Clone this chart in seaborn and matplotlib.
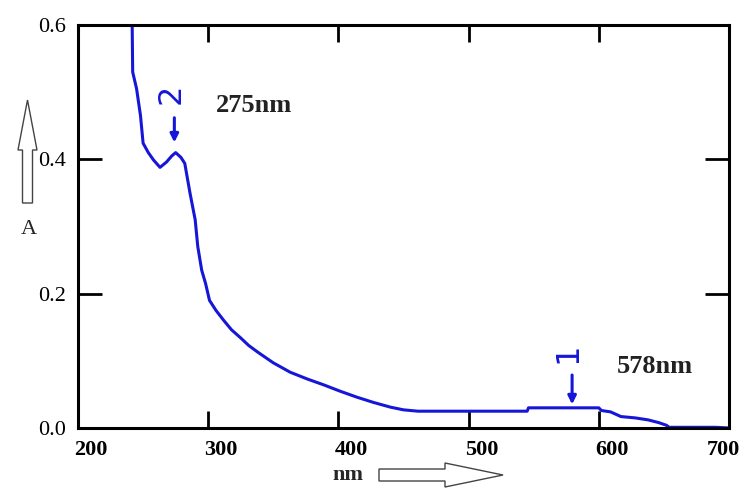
import matplotlib
matplotlib.use("Agg")
import matplotlib.pyplot as plt
import seaborn as sns
import pandas as pd
from matplotlib.patches import FancyArrow
from matplotlib.transforms import ScaledTranslation

# -----------------------------
# Data
# -----------------------------
wavelength = [241.5, 242, 245, 248, 250, 254, 258, 263, 268, 272, 275, 279, 282,
              286, 290, 292, 295, 298, 301, 306, 312, 318, 325, 331, 338, 350,
              363, 376, 389, 401, 414, 427, 440, 450, 461, 517, 545, 546, 600,
              602, 609, 617, 628, 638, 646, 652, 654, 690, 700]
absorbance = [0.62, 0.53, 0.505, 0.465, 0.424, 0.41, 0.399, 0.388, 0.396, 0.405,
              0.410, 0.403, 0.394, 0.35, 0.31, 0.27, 0.235, 0.215, 0.19, 0.175,
              0.16, 0.146, 0.134, 0.123, 0.113, 0.097, 0.083, 0.073, 0.064,
              0.055, 0.046, 0.038, 0.031, 0.027, 0.025, 0.025, 0.025, 0.03,
              0.03, 0.026, 0.024, 0.017, 0.015, 0.012, 0.008, 0.004, 0.001,
              0.001, 0.0]

x_ticks = [200, 300, 400, 500, 600, 700]
y_ticks = [0.0, 0.2, 0.4, 0.6]
y_tick_labels = ["0.0", "0.2", "0.4", "0.6"]

peaks = ["1", "2"]
peak_wl = [578, 274]
peak_label = ["578nm", "275nm"]

df = pd.DataFrame({"nm": wavelength, "A": absorbance})

# -----------------------------
# Style
# -----------------------------
sns.set_style("ticks")
plt.rcParams["font.family"] = ["Liberation Serif", "DejaVu Serif"]

BLUE = "#1616d8"

fig = plt.figure(figsize=(7.45, 4.95), dpi=100)
ax = fig.add_axes([0.1047, 0.1354, 0.8738, 0.8141])

sns.lineplot(data=df, x="nm", y="A", ax=ax, color=BLUE, linewidth=2.2,
             sort=False)

ax.set_xlim(200, 700)
ax.set_ylim(0, 0.6)
ax.set_xlabel("")
ax.set_ylabel("")

for s in ax.spines.values():
    s.set_visible(True)
    s.set_linewidth(2.2)
    s.set_color("black")

ax.set_xticks(x_ticks)
ax.set_xticklabels([str(v) for v in x_ticks], fontweight="bold", fontsize=16)
ax.set_yticks(y_ticks)
ax.set_yticklabels(y_tick_labels, fontsize=16)
ax.tick_params(axis="x", direction="in", length=12, width=2, top=True,
               bottom=True, pad=9, colors="black")
ax.tick_params(axis="y", direction="in", length=17, width=2, left=True,
               right=True, pad=9, colors="black")

# x tick labels sit slightly right of their ticks in the original
labels = ax.get_xticklabels()
for i, lab in enumerate(labels):
    dx = 13 if i < len(labels) - 1 else -6
    lab.set_transform(lab.get_transform()
                      + ScaledTranslation(dx / 100, 0, fig.dpi_scale_trans))

# -----------------------------
# Peak markers
# -----------------------------
# peak 1 (578 nm)
ax.annotate("", xy=(peak_wl[0] + 1.5, 0.031), xytext=(peak_wl[0] + 1.5, 0.083),
            arrowprops=dict(arrowstyle="-|>", color=BLUE, lw=2.2,
                            mutation_scale=12))
ax.text(576.5, 0.112, peaks[0], rotation=90, color=BLUE, fontsize=23,
        ha="center", va="center", family="DejaVu Sans")
ax.text(643, 0.091, peak_label[0], fontsize=19, fontweight="bold",
        ha="center", va="center", color="#222222")

# peak 2 (275 nm)
ax.annotate("", xy=(peak_wl[1], 0.421), xytext=(peak_wl[1], 0.466),
            arrowprops=dict(arrowstyle="-|>", color=BLUE, lw=2.2,
                            mutation_scale=12))
ax.text(271.5, 0.497, peaks[1], rotation=90, color=BLUE, fontsize=23,
        ha="center", va="center", family="DejaVu Sans")
ax.text(335, 0.48, peak_label[1], fontsize=19, fontweight="bold",
        ha="center", va="center", color="#222222")

# -----------------------------
# Axis labels with hollow arrows
# -----------------------------
fig.text(29 / 745, 1 - 229 / 495, "A", fontsize=16, ha="center", va="center")
fig.text(348 / 745, 1 - 475 / 495, "nm", fontsize=16, fontweight="bold",
         ha="center", va="center")

fig.patches.append(FancyArrow(0.275, 2.92, 0, 1.03, width=0.10,
                              head_width=0.19, head_length=0.50,
                              length_includes_head=True,
                              transform=fig.dpi_scale_trans,
                              facecolor="white", edgecolor="#444444", lw=1))
fig.patches.append(FancyArrow(3.79, 0.20, 1.24, 0, width=0.12,
                              head_width=0.24, head_length=0.58,
                              length_includes_head=True,
                              transform=fig.dpi_scale_trans,
                              facecolor="white", edgecolor="#444444", lw=1))

fig.savefig("out.png", dpi=100)
plt.close(fig)
